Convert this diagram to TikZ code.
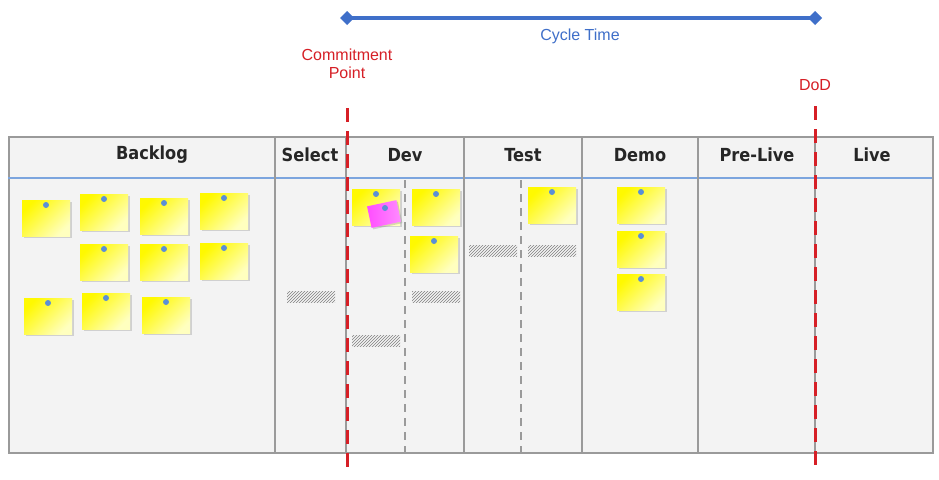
\documentclass[tikz,border=0pt]{standalone}
\usepackage{fontspec}
\setmainfont{Liberation Sans}
\newfontfamily\hdfont{DejaVu Sans Condensed}
\usetikzlibrary{patterns,arrows.meta,shadows}
\definecolor{redl}{HTML}{D61F26}
\definecolor{bluel}{HTML}{3F6FC9}
\definecolor{board}{HTML}{F3F3F3}
\definecolor{gridc}{HTML}{9A9A9A}
\definecolor{pinc}{HTML}{5B8FD6}
\tikzset{x=1pt,y=-1pt,
 hd/.style={font=\hdfont\bfseries\fontsize{18}{18}\selectfont, text=black!85},
 col/.style={draw=gridc, line width=1.5pt},
 sub/.style={draw=gridc, line width=1.5pt, dash pattern=on 8pt off 6pt},
 red/.style={draw=redl, line width=3pt, dash pattern=on 14pt off 9pt},
 sticky/.style={minimum width=48pt, minimum height=36pt, inner sep=0pt, draw=none,
   left color=yellow!95!orange, right color=yellow!25, shading angle=45,
   drop shadow={shadow xshift=1.5pt,shadow yshift=-1.5pt,opacity=.3}},
 pink/.style={sticky, minimum width=30pt, minimum height=22pt, left color=magenta!70, right color=magenta!45, rotate=12},
 pin/.style={circle, fill=pinc, inner sep=0pt, minimum size=6pt},
 hatch/.style={minimum width=48pt, minimum height=11pt, inner sep=0pt, pattern=north east lines, pattern color=gray},
 lbl/.style={font=\fontsize{16}{18}\selectfont, align=center}
}
\begin{document}
\begin{tikzpicture}
\useasboundingbox (0,0) rectangle (939,479);
\fill[white] (0,0) rectangle (939,479);
\node[draw=gridc, line width=1.5pt, fill=board, minimum width=924pt, minimum height=316pt, inner sep=0pt, anchor=north west] (board) at (8,136) {};
\draw[draw=pinc!80, line width=2pt] (8,178) -- (932,178);
\foreach \x in {275,346,464,582,698,815}{\draw[col] (\x,136) -- (\x,452);}
\foreach \x in {405,521}{\draw[sub] (\x,180) -- (\x,452);}
% headers
\node[hd] (h1) at (152,155) {Backlog};
\node[hd] (h2) at (310,155) {Select};
\node[hd] (h3) at (405,155) {Dev};
\node[hd] (h4) at (523,155) {Test};
\node[hd] (h5) at (640,155) {Demo};
\node[hd] (h6) at (757,155) {Pre-Live};
\node[hd] (h7) at (872,155) {Live};
% stickies
\foreach \n/\x/\y in {a/46/218,b/104/212,c/164/216,d/224/211,e/104/262,f/164/262,g/224/261,h/48/316,i/106/311,j/166/315,k/376/207,l/436/207,m/434/254,n/552/205,o/641/205,p/641/249,q/641/292}{
  \node[sticky] (s\n) at (\x,\y) {};
  \node[pin] (p\n) at (\x,\y-13) {};
}
\node[pink] (pk) at (384,214) {};
\node[pin] (ppk) at (385,208) {};
% hatches
\foreach \n/\x/\y in {1/311/297,2/436/297,3/376/341,4/493/251,5/552/251}{\node[hatch] (w\n) at (\x,\y) {};}
% red lines
\coordinate (c1) at (347,108); \coordinate (c2) at (347,468);
\coordinate (d1) at (815,106); \coordinate (d2) at (815,468);
\draw[red] (c1) -- (c2);
\draw[red] (d1) -- (d2);
\node[lbl, text=redl] (cp) at (347,64) {Commitment\\Point};
\node[lbl, text=redl] (dod) at (815,85) {DoD};
% cycle time
\coordinate (ct1) at (340,18); \coordinate (ct2) at (822,18);
\draw[bluel, line width=3.5pt, {Diamond[length=14pt,width=14pt]}-{Diamond[length=14pt,width=14pt]}] (ct1) -- (ct2);
\node[lbl, text=bluel] (ctl) at (580,36) {Cycle Time};
\end{tikzpicture}
\end{document}
